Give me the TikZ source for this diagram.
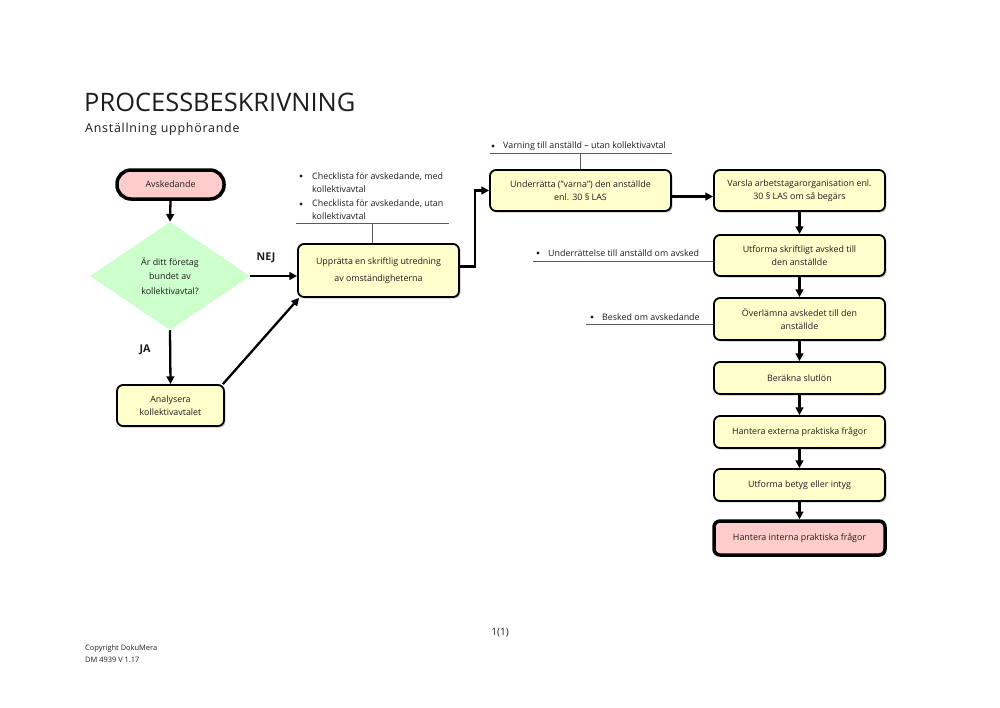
\documentclass[tikz,border=0pt]{standalone}
\usepackage{fontspec}
\setmainfont{Open Sans}
\usetikzlibrary{arrows.meta,shapes.geometric,shadows}
\newdimen\pxu \pxu=0.297mm
\definecolor{yfill}{RGB}{255,255,204}
\definecolor{pfill}{RGB}{255,204,204}
\definecolor{gfill}{RGB}{204,255,204}
\definecolor{notegray}{RGB}{90,90,90}
\definecolor{txt}{RGB}{30,30,30}
\newcommand{\boxfont}{\fontsize{7.5}{11}\selectfont}
\tikzset{
  ybox/.style={draw=black, line width=1.8\pxu, fill=yfill, rounded corners=6\pxu,
    font=\boxfont, align=center, inner sep=0pt, text=txt,
    drop shadow={shadow xshift=1.5\pxu, shadow yshift=-1.5\pxu, fill=black!35, opacity=0.6}},
  pbox/.style={ybox, fill=pfill, line width=3.5\pxu},
  arr/.style={line width=2.3\pxu, draw=black, -{Triangle[length=2.3mm,width=2.3mm]}},
  noteline/.style={line width=0.9\pxu, draw=notegray},
  notetxt/.style={font=\boxfont, anchor=west, inner sep=0pt, align=left, text=txt},
  bul/.style={circle, fill=txt, inner sep=0pt, minimum size=3.3\pxu},
  lbl/.style={font=\bfseries\fontsize{9}{11}\selectfont, inner sep=0pt, text=txt}
}
\begin{document}
\begin{tikzpicture}[x=0.297mm, y=-0.297mm]
\path[use as bounding box, fill=white] (0,0) rectangle (1000,707);

% title
\node[anchor=base west, inner sep=0pt, font=\fontsize{21.5}{24}\selectfont, text=txt] (title) at (84,111) {PROCESSBESKRIVNING};
\node[anchor=base west, inner sep=0pt, font=\fontsize{10.5}{12}\selectfont\addfontfeatures{LetterSpace=6}, text=txt] (subtitle) at (85,132) {Anställning upphörande};

% left column
\node[pbox, rounded corners=14\pxu, minimum width=107\pxu, minimum height=29\pxu] (avsk) at (170.5,184.5) {Avskedande};
\node[diamond, fill=gfill, inner sep=0pt, minimum width=160\pxu, minimum height=108\pxu, aspect=1.48,
  font=\fontsize{7.5}{12}\selectfont, align=center, text=txt] (dia) at (170,276) {Är ditt företag\\bundet av\\kollektivavtal?};
\node[ybox, minimum width=107\pxu, minimum height=41\pxu] (ana) at (170.5,405.5) {Analysera\\kollektivavtalet};

\node[lbl] (nej) at (266,258) {NEJ};
\node[lbl] (ja) at (145,350) {JA};

% middle
\node[ybox, minimum width=161\pxu, minimum height=53\pxu, font=\fontsize{7.5}{14.3}\selectfont] (upp) at (378.5,270.5) {Upprätta en skriftlig utredning\\av omständigheterna};
\node[ybox, minimum width=181\pxu, minimum height=41\pxu] (und) at (580.5,190.5) {Underrätta (”varna”) den anställde\\enl. 30 § LAS};

% right column
\node[ybox, minimum width=171\pxu, minimum height=41\pxu] (var) at (799.5,190.5) {Varsla arbetstagarorganisation enl.\\30 § LAS om så begärs};
\node[ybox, minimum width=171\pxu, minimum height=41\pxu] (utf) at (799.5,255.5) {Utforma skriftligt avsked till\\den anställde};
\node[ybox, minimum width=171\pxu, minimum height=42\pxu] (overl) at (799.5,319) {Överlämna avskedet till den\\anställde};
\node[ybox, minimum width=171\pxu, minimum height=32\pxu] (ber) at (799.5,378) {Beräkna slutlön};
\node[ybox, minimum width=171\pxu, minimum height=32\pxu] (ext) at (799.5,432) {Hantera externa praktiska frågor};
\node[ybox, minimum width=171\pxu, minimum height=32\pxu] (bet) at (799.5,485) {Utforma betyg eller intyg};
\node[pbox, minimum width=171\pxu, minimum height=34\pxu] (int) at (799.5,538) {Hantera interna praktiska frågor};

% notes: checklists
\node[bul] (b1) at (301,176) {};
\node[notetxt] (c1) at (312,182.5) {Checklista för avskedande, med\\kollektivavtal};
\node[bul] (b2) at (301,204) {};
\node[notetxt] (c2) at (312,210) {Checklista för avskedande, utan\\kollektivavtal};
\coordinate (cl1) at (296,223);
\coordinate (cl2) at (449,223);
\coordinate (cl3) at (372,223);
\draw[noteline] (cl1) -- (cl2);
\draw[noteline] (cl3) -- (cl3 |- upp.north);

% note: varning
\node[bul] (b3) at (493,146) {};
\node[notetxt] (c3) at (503,146) {Varning till anställd – utan kollektivavtal};
\coordinate (vl1) at (490,153);
\coordinate (vl2) at (672,153);
\coordinate (vl3) at (580,153);
\draw[noteline] (vl1) -- (vl2);
\draw[noteline] (vl3) -- (vl3 |- und.north);

% note: underrättelse
\node[bul] (b4) at (538,253) {};
\node[notetxt] (c4) at (548,253) {Underrättelse till anställd om avsked};
\coordinate (ul1) at (533,261);
\draw[noteline] (ul1) -- (ul1 -| utf.west);

% note: besked
\node[bul] (b5) at (592,317) {};
\node[notetxt] (c5) at (602,317) {Besked om avskedande};
\coordinate (bl1) at (586,324);
\draw[noteline] (bl1) -- (bl1 -| overl.west);

% connectors
\draw[arr] (avsk.south) -- (dia.north);
\draw[arr] (dia.east) -- (dia.east -| upp.west);
\draw[arr] (dia.south) -- (ana.north);
\draw[arr] ([xshift=-2\pxu]ana.north east) -- ([xshift=2\pxu]upp.south west);
\draw[arr] ([yshift=4\pxu]upp.east) -- ++(15,0) |- (und.west);
\draw[arr] ([yshift=-6\pxu]und.east) -- ([yshift=-6\pxu]var.west);
\draw[arr] (var.south) -- (utf.north);
\draw[arr] (utf.south) -- (overl.north);
\draw[arr] (overl.south) -- (ber.north);
\draw[arr] (ber.south) -- (ext.north);
\draw[arr] (ext.south) -- (bet.north);
\draw[arr] (bet.south) -- (int.north);

% footer
\node[inner sep=0pt, font=\fontsize{8.5}{10}\selectfont, text=txt] (page) at (500,633) {1(1)};
\node[anchor=west, inner sep=0pt, font=\fontsize{6.3}{10}\selectfont, align=left, text=txt] (copy) at (85,654) {Copyright DokuMera\\DM 4939 V 1.17};
\end{tikzpicture}
\end{document}
